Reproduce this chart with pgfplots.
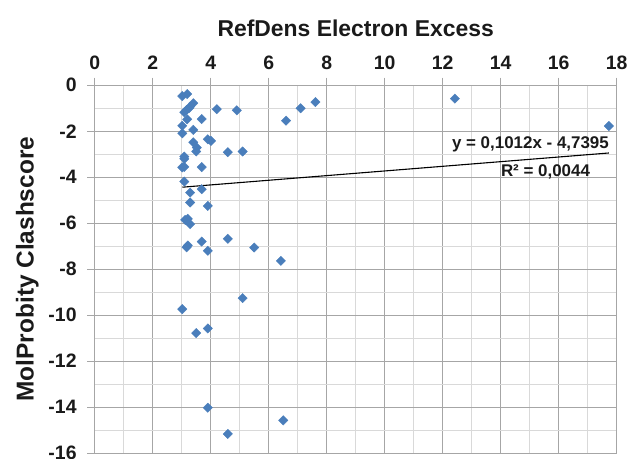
\documentclass[border=0pt]{standalone}
\usepackage{fontspec}
\setmainfont{Liberation Sans}
\usepackage{pgfplots}
\pgfplotsset{compat=1.18}
\definecolor{pt}{HTML}{4A7EBB}
\definecolor{majgrid}{HTML}{A6A6A6}
\definecolor{mingrid}{HTML}{D9D9D9}
\definecolor{txt}{HTML}{1A1A1A}
\begin{document}
\begin{tikzpicture}
\begin{axis}[name=ax, scale only axis, width=522bp, height=367.7bp,
  xmin=0, xmax=18, ymin=-16, ymax=0,
  xtick={0,2,...,18}, ytick={-16,-14,...,0},
  minor x tick num=1, minor y tick num=1,
  grid=both,
  major grid style={majgrid, line width=0.9bp},
  minor grid style={mingrid, line width=0.9bp},
  axis line style={majgrid, line width=0.9bp},
  xtick pos=right, xticklabel pos=right,
  ytick pos=left, yticklabel pos=left,
  tick align=outside, major tick length=7.6bp, minor tick length=0bp,
  tick style={majgrid, line width=0.9bp},
  /pgf/number format/assume math mode=true,
  xticklabel style={font=\fontsize{19.5}{22}\selectfont\bfseries, text=txt, yshift=4.5bp},
  yticklabel style={font=\fontsize{19.5}{22}\selectfont\bfseries, text=txt, xshift=-7bp},
  title={RefDens Electron Excess},
  title style={font=\fontsize{23}{26}\selectfont\bfseries, text=txt, at={(0.5,1)}, anchor=base, yshift=43.3bp},
  ylabel={MolProbity Clashscore},
  ylabel style={font=\fontsize{24.5}{28}\selectfont\bfseries, text=txt, at={(0,0.5)}, anchor=base, yshift=61bp},
  clip=false,
]
\addplot[only marks, mark=square*, mark size=3.3bp, color=pt, mark options={rotate=45, fill=pt, draw=pt}] coordinates {
(3.02,-0.47) (3.19,-0.38) (3.40,-0.78) (3.29,-0.93) (3.17,-1.07) (3.09,-1.17) (3.25,-1.00)
(3.19,-1.48) (4.21,-1.04) (4.90,-1.09) (6.60,-1.54) (3.69,-1.47) (3.02,-1.76) (3.02,-2.09)
(3.40,-1.94) (3.40,-2.48) (3.52,-2.71) (3.50,-2.88) (3.90,-2.35) (4.01,-2.42) (4.59,-2.91)
(5.10,-2.88) (3.09,-3.10) (3.09,-3.20) (3.02,-3.57) (3.09,-3.55) (3.69,-3.56) (3.09,-4.19)
(3.29,-4.67) (3.69,-4.52) (3.29,-5.10) (3.90,-5.25) (3.12,-5.86) (3.21,-5.81) (3.29,-6.04)
(3.21,-6.97) (3.17,-7.05) (3.69,-6.80) (4.59,-6.68) (3.90,-7.20) (5.50,-7.06) (6.42,-7.64)
(5.10,-9.26) (3.02,-9.74) (3.50,-10.78) (3.90,-10.58) (3.90,-14.03) (4.59,-15.17) (6.50,-14.58)
(7.10,-1.00) (7.61,-0.73) (12.42,-0.58) (17.73,-1.77)
};
\addplot[black, line width=1.1bp, no marks] coordinates {(3.02,-4.4339) (17.73,-2.9452)};
\node[anchor=east, font=\fontsize{17}{19}\selectfont\bfseries, text=txt] at (axis cs:17.85,-2.55) {y = 0,1012x - 4,7395};
\node[anchor=east, font=\fontsize{17}{19}\selectfont\bfseries, text=txt] at (axis cs:17.2,-3.75) {R² = 0,0044};
\end{axis}
\pgfresetboundingbox
\path[use as bounding box] ([shift={(-94.7bp,-6bp)}]ax.south west) rectangle ([shift={(537.3bp,453bp)}]ax.south west);
\end{tikzpicture}
\end{document}
